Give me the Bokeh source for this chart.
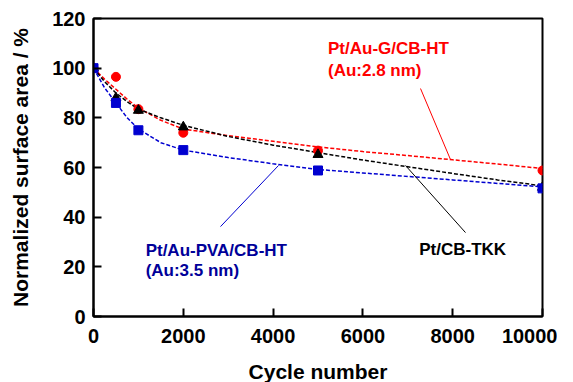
from bokeh.plotting import figure
from bokeh.models import Range1d, FixedTicker, Label
from bokeh.embed import file_html
from bokeh.resources import INLINE

# Measured data points
cycles = [0, 500, 1000, 2000, 5000, 10000]
au_g = [100, 96.5, 83.5, 74, 66.8, 58.8]
tkk = [100, 88, 83, 76.3, 65.2, 52]
au_pva = [100, 86, 75, 67, 58.8, 51.6]

# Fitted (dashed) curves
fit_x = [0, 250, 500, 750, 1000, 1500, 2000, 3000, 4000, 5000, 6000, 7000, 8000, 9000, 10000]
fit_au_g = [100, 95.5, 91.5, 87.5, 84, 79, 75.5, 72.8, 70.6, 68.3, 66.4, 64.8, 63.1, 61.4, 59.6]
fit_tkk = [100, 94.5, 90, 86.5, 83.5, 80, 77, 72.5, 69, 66, 63, 60.3, 57.6, 55, 52.6]
fit_pva = [100, 92, 86, 80, 75.5, 70, 67, 64, 61.5, 59.2, 57.8, 56.4, 55, 53.6, 52.2]

x_ticks = [0, 2000, 4000, 6000, 8000, 10000]
y_ticks = [0, 20, 40, 60, 80, 100, 120]

FONT = "Liberation Sans"
RED = "#FF0000"
BLUE = "#0000D0"
BLUE_TXT = "#000099"

p = figure(frame_width=449, frame_height=298, output_backend="svg", toolbar_location=None,
           x_range=Range1d(0, 10000), y_range=Range1d(0, 120),
           min_border_left=93, min_border_right=15, min_border_top=18, min_border_bottom=2)
p.background_fill_color = "white"
p.border_fill_color = "white"
p.grid.visible = False
p.outline_line_color = "black"
p.outline_line_width = 2

for ax in (p.xaxis[0], p.yaxis[0]):
    ax.axis_line_width = 2
    ax.major_tick_line_width = 2
    ax.major_tick_in = 8
    ax.major_tick_out = 0
    ax.minor_tick_line_color = None
    ax.major_label_text_font = FONT
    ax.major_label_text_font_style = "bold"
    ax.major_label_text_font_size = "20px"
    ax.major_label_text_color = "black"
    ax.axis_label_text_font = FONT
    ax.axis_label_text_font_style = "bold"
    ax.axis_label_text_font_size = "21px"
    ax.axis_label_text_color = "black"

p.xaxis.ticker = FixedTicker(ticks=x_ticks)
p.yaxis.ticker = FixedTicker(ticks=y_ticks)
p.xaxis.axis_label = "Cycle number"
p.yaxis.axis_label = "Normalized surface area / %"
p.xaxis.major_label_standoff = 12
p.yaxis.major_label_standoff = 8
p.xaxis.axis_label_standoff = 14
p.yaxis.axis_label_standoff = 17

# Fitted dashed lines
p.line(fit_x, fit_au_g, line_color=RED, line_width=1.5, line_dash="4 2")
p.line(fit_x, fit_tkk, line_color="black", line_width=1.5, line_dash="4 2")
p.line(fit_x, fit_pva, line_color=BLUE, line_width=1.5, line_dash="4 2")

# Markers
p.scatter(cycles, au_g, marker="circle", size=9, fill_color=RED, line_color=RED)
p.scatter(cycles, tkk, marker="triangle", size=10, fill_color="black", line_color="black")
p.scatter(cycles, au_pva, marker="square", size=9, fill_color=BLUE, line_color=BLUE)

# Leader lines
p.line([7283, 7951], [91.8, 63.2], line_color=RED, line_width=1)
p.line([6949, 8285], [60.8, 33.8], line_color="black", line_width=1)
p.line([4120, 2829], [60.8, 36.2], line_color=BLUE, line_width=1)

def lab(x, y, t, c):
    p.add_layout(Label(x=x, y=y, text=t, text_color=c, text_font=FONT, text_font_style="bold",
                       text_font_size="17px", text_baseline="middle", text_align="left"))

lab(5223, 107.9, "Pt/Au-G/CB-HT", RED)
lab(5223, 99.2, "(Au:2.8 nm)", RED)
lab(1161, 26.6, "Pt/Au-PVA/CB-HT", BLUE_TXT)
lab(1161, 18.5, "(Au:3.5 nm)", BLUE_TXT)
lab(7254, 27.0, "Pt/CB-TKK", "black")

open("out.html", "w").write(file_html(p, INLINE))
